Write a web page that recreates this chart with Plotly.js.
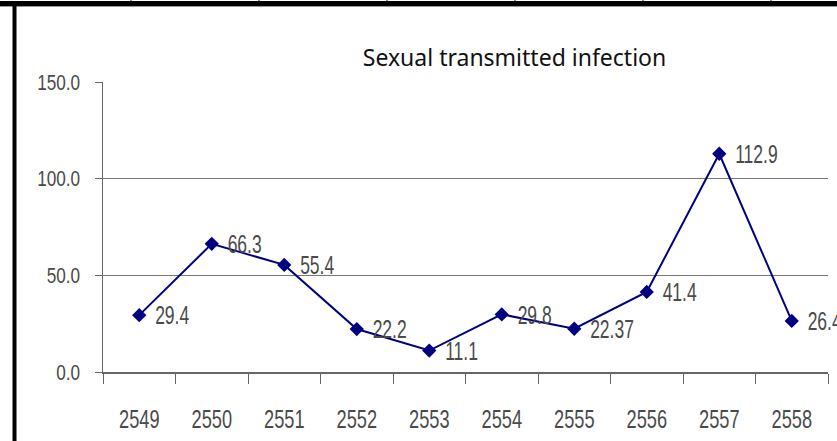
<!DOCTYPE html>
<html>
<head>
<meta charset="utf-8">
<script src="https://cdn.plot.ly/plotly-3.0.1.min.js"></script>
<style>html,body{margin:0;padding:0;background:#fff;}#chart{width:837px;height:441px;}</style>
</head>
<body>
<div id="chart"></div>
<script>
var years = ['2549','2550','2551','2552','2553','2554','2555','2556','2557','2558'];
var values = [29.4, 66.3, 55.4, 22.2, 11.1, 29.8, 22.37, 41.4, 112.9, 26.4];
var valueLabels = ['29.4','66.3','55.4','22.2','11.1','29.8','22.37','41.4','112.9','26.4'];
var yTicks = [0, 50, 100, 150];
var yTickText = ['0.0','50.0','100.0','150.0'];
var chartTitle = 'Sexual transmitted infection';

var W = 837, H = 441, L = 103, R = 9, T = 82, B = 69;
function px(x){ return (x - L) / (W - L - R); }
function py(y){ return (H - B - y) / (H - T - B); }

var font = 'Liberation Sans, Arial, sans-serif';
var textColor = '#4a4a4a';

var shapes = [
  {type:'rect', xref:'paper', yref:'paper', x0:px(0), x1:px(W), y0:py(6), y1:py(1), fillcolor:'#000', line:{width:0}, layer:'above'},
  {type:'line', xref:'paper', yref:'paper', x0:px(0), x1:px(W), y0:py(6.5), y1:py(6.5), line:{color:'#999', width:1}, layer:'above'},
  {type:'rect', xref:'paper', yref:'paper', x0:px(12.5), x1:px(16.5), y0:py(H), y1:py(5), fillcolor:'#000', line:{width:0}, layer:'above'}
];
[131, 259, 387, 515, 643, 771].forEach(function(x){
  shapes.push({type:'line', xref:'paper', yref:'paper', x0:px(x), x1:px(x), y0:py(2), y1:py(0), line:{color:'#000', width:1}, layer:'above'});
});

var trace = {
  x: years,
  y: values,
  type: 'scatter',
  mode: 'lines+markers+text',
  text: valueLabels,
  textposition: 'middle right',
  textfont: {family: font, size: 25, color: textColor},
  line: {color: '#000080', width: 2},
  marker: {symbol: 'diamond', size: 11, color: '#000080'},
  cliponaxis: false,
  hoverinfo: 'x+y'
};

var layout = {
  width: W, height: H,
  margin: {l: L, r: R, t: T, b: B, pad: 0},
  paper_bgcolor: '#fff',
  plot_bgcolor: '#fff',
  showlegend: false,
  title: {
    text: chartTitle,
    font: {family: 'Noto Sans, Open Sans, sans-serif', size: 23, color: '#111'},
    xref: 'container', yref: 'container',
    x: 514.5 / W, xanchor: 'center',
    y: 1 - 58 / H, yanchor: 'middle'
  },
  xaxis: {
    type: 'category',
    tickson: 'boundaries',
    range: [-0.5, 9.5],
    ticks: 'outside', ticklen: 10, tickwidth: 1, tickcolor: '#666',
    showline: true, linecolor: '#666', linewidth: 1.5,
    showgrid: false, zeroline: false,
    tickfont: {family: font, size: 26, color: textColor},
    ticklabelstandoff: 23
  },
  yaxis: {
    range: [0, 150],
    tickvals: yTicks, ticktext: yTickText,
    ticks: 'outside', ticklen: 7, tickwidth: 1, tickcolor: '#666',
    showline: true, linecolor: '#666', linewidth: 1.5,
    showgrid: true, gridcolor: '#777', gridwidth: 1,
    zeroline: false,
    tickfont: {family: font, size: 22, color: textColor},
    ticklabelstandoff: 10
  },
  shapes: shapes
};

function squeeze(sel, s, dx, dy){
  document.querySelectorAll(sel).forEach(function(el){
    var len = el.getComputedTextLength();
    el.setAttribute('textLength', (len * s).toFixed(2));
    el.setAttribute('lengthAdjust', 'spacingAndGlyphs');
    if (dx) el.setAttribute('x', (parseFloat(el.getAttribute('x') || 0) + dx).toFixed(2));
    if (dy) el.setAttribute('y', (parseFloat(el.getAttribute('y') || 0) + dy).toFixed(2));
  });
}

Plotly.newPlot('chart', [trace], layout, {displayModeBar: false, staticPlot: true}).then(function(){
  squeeze('.xtick text', 0.7, 0, 0);
  squeeze('.ytick text', 0.78, 0, 0);
  squeeze('.textpoint text', 0.7, 8, 3);
});
</script>
</body>
</html>
